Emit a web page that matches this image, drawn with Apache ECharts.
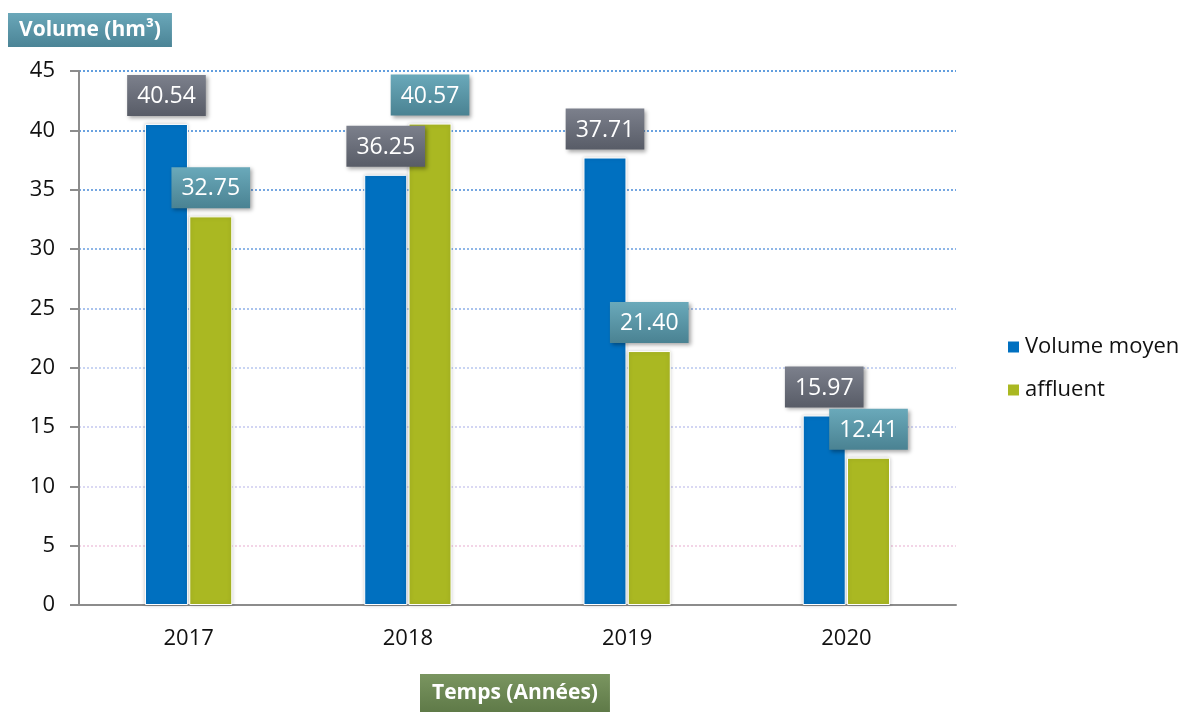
<!DOCTYPE html>
<html lang="fr">
<head>
	<meta charset="UTF-8">
	<title>Volume</title>
	<script src="https://cdn.jsdelivr.net/npm/echarts@6/dist/echarts.min.js"></script>
	<style>
		html,body{height:100%;margin:0;background:#fff;}
	</style>
</head>
<body>
	<div id="chart" style="width:1192px; height:713px;"></div>
	<script>
	var years = ['2017', '2018', '2019', '2020'];
	var volumeMoyen = [40.54, 36.25, 37.71, 15.97];
	var affluent = [32.75, 40.57, 21.40, 12.41];

	var font = '"Open Sans", Lato, sans-serif';

	// fond des étiquettes en dégradé
	function grad(top, bottom) {
		return new echarts.graphic.LinearGradient(0, 0, 0, 1, [
			{offset: 0, color: top}, {offset: 1, color: bottom}
		]);
	}

	function valueLabel(top, bottom) {
		return {
			show: true,
			position: 'top',
			distance: 8,
			formatter: function (p) { return p.value.toFixed(2); },
			color: '#fff',
			fontSize: 23,
			fontFamily: font,
			backgroundColor: grad(top, bottom),
			padding: [10, 10, 8, 10],
			shadowColor: 'rgba(0,0,0,0.35)',
			shadowBlur: 4,
			shadowOffsetX: 2,
			shadowOffsetY: 2
		};
	}

	var myChart = echarts.init(document.getElementById('chart'));
	var option = {
		animation: false,
		title: [{
			text: 'Volume (hm³)',
			left: 8, top: 13,
			backgroundColor: grad('#6aa7b9', '#4b8496'),
			padding: [7, 11, 6, 11],
			textStyle: {color: '#fff', fontSize: 21, fontWeight: 'bold', fontFamily: font}
		}, {
			text: 'Temps (Années)',
			left: 420, top: 674,
			backgroundColor: grad('#7a9560', '#5f7a48'),
			padding: [9, 12, 8, 12],
			textStyle: {color: '#fff', fontSize: 21, fontWeight: 'bold', fontFamily: font}
		}],
		legend: {
			orient: 'vertical',
			left: 1001, top: 331,
			itemWidth: 13, itemHeight: 13,
			itemGap: 21,
			icon: 'rect',
			textStyle: {fontSize: 22, color: '#111', fontFamily: font}
		},
		grid: {left: 79, right: 236, top: 71, bottom: 108, containLabel: false},
		xAxis: {
			type: 'category',
			data: years,
			axisLine: {lineStyle: {color: '#8c8c8c', width: 2}},
			axisTick: {show: false},
			axisLabel: {fontSize: 22, color: '#111', margin: 23, fontFamily: font}
		},
		yAxis: {
			type: 'value',
			min: 0, max: 45, interval: 5,
			axisLine: {show: true, lineStyle: {color: '#8c8c8c', width: 2}},
			axisTick: {show: true, length: 9, lineStyle: {color: '#8c8c8c', width: 2}},
			axisLabel: {fontSize: 22, color: '#111', margin: 24, fontFamily: font},
			splitLine: {
				lineStyle: {
					type: [2, 2],
					width: 1.5,
					color: ['#ffffff', '#f0c8e0', '#d0cdf0', '#c4c8f0', '#b8c8f0', '#8eb0e8',
						'#6a9ee0', '#4a8ad8', '#3a84d6', '#2f7fd4']
				}
			}
		},
		series: [{
			name: 'Volume moyen',
			type: 'bar',
			data: volumeMoyen,
			barWidth: 43,
			barGap: '3%',
			itemStyle: {
				color: '#0070c0',
				borderColor: '#fff', borderWidth: 1,
				shadowColor: 'rgba(0,0,0,0.2)', shadowBlur: 4
			},
			label: valueLabel('#7c808c', '#585c67')
		}, {
			name: 'affluent',
			type: 'bar',
			data: affluent,
			barWidth: 43,
			itemStyle: {
				color: '#aab822',
				borderColor: '#fff', borderWidth: 1,
				shadowColor: 'rgba(0,0,0,0.2)', shadowBlur: 4
			},
			label: valueLabel('#6aa9ba', '#4a8292')
		}]
	};
	myChart.setOption(option);
	</script>
</body>
</html>
